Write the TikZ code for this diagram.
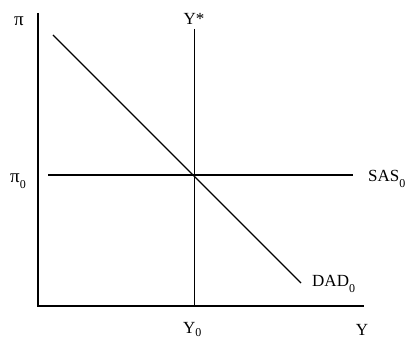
\documentclass[tikz,border=0pt]{standalone}
\usepackage{fontspec}
\setmainfont{Liberation Serif}

\begin{document}
\begin{tikzpicture}[x=1pt, y=-1pt, font=\fontsize{17}{20}\selectfont]
			\useasboundingbox (0, 0) rectangle (415, 339);
			\coordinate (O) at (38, 306);
			\coordinate (Ptop) at (38, 13);
			\coordinate (Yend) at (364, 306);
			\coordinate (Vtop) at (194, 29);
			\coordinate (Vbot) at (194, 306);
			\coordinate (Sl) at (48, 175);
			\coordinate (Sr) at (353, 175);
			\coordinate (Dtop) at (53, 35);
			\coordinate (Dbot) at (301, 283);
			\draw[line width=1.2pt] (Ptop) -- (O) -- (Yend);
			\draw[line width=1pt] (Vtop) -- (Vbot);
			\draw[line width=1.2pt] (Sl) -- (Sr);
			\draw[line width=1.2pt] (Dtop) -- (Dbot);
			\node[anchor=base](Lpi) at (19, 26){\fontsize{19}{20}\selectfont π};
			\node[anchor=base west, inner sep=0pt](Lpi0) at (10, 183){\fontsize{19}{20}\selectfont π\raisebox{-0.3em}{\fontsize{12}{14}\selectfont 0}};
			\node[anchor=base](Lystar) at (194, 25){Y*};
			\node[anchor=base west, inner sep=0pt](Lsas) at (368, 182){SAS\raisebox{-0.3em}{\fontsize{12}{14}\selectfont 0}};
			\node[anchor=base west, inner sep=0pt](Ldad) at (312, 287){DAD\raisebox{-0.3em}{\fontsize{12}{14}\selectfont 0}};
			\node[anchor=base west, inner sep=0pt](Ly0) at (183, 333){Y\raisebox{-0.22em}{\fontsize{12}{14}\selectfont 0}};
			\node[anchor=base](Ly) at (362, 335){Y};
		\end{tikzpicture}
\end{document}
